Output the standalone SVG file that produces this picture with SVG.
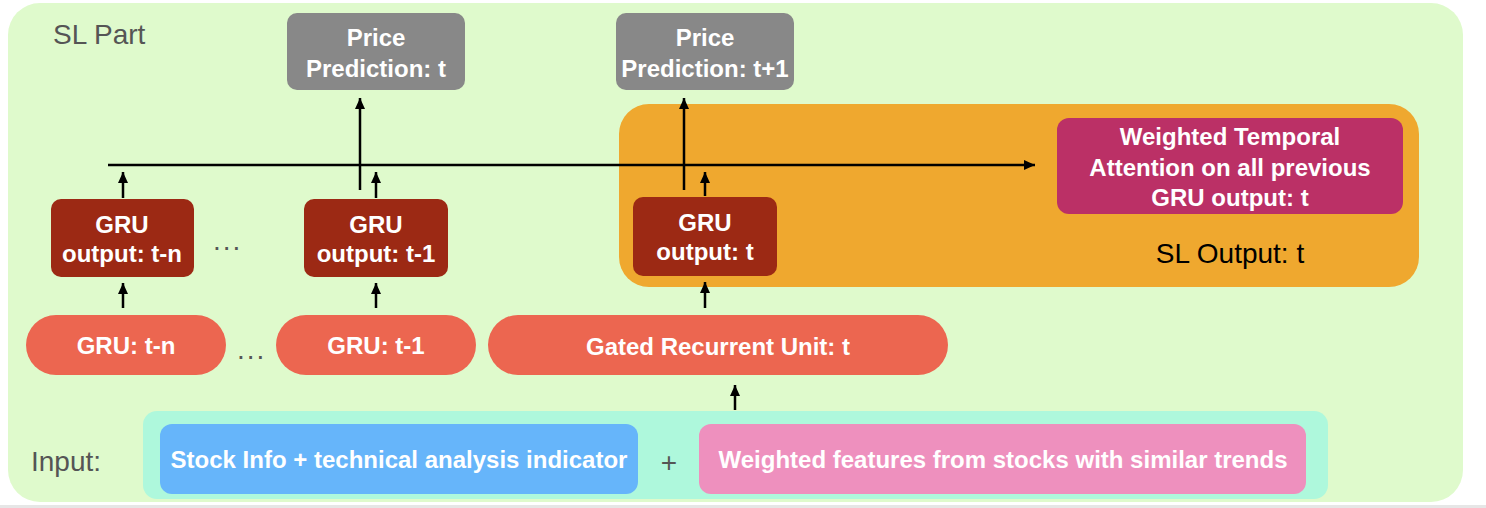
<svg xmlns="http://www.w3.org/2000/svg" width="1486" height="508" viewBox="0 0 1486 508">
<style>
.lbl{font-family:"Liberation Sans",Arial,sans-serif;font-weight:bold;font-size:24px;fill:#ffffff;text-anchor:middle}
.plain{font-family:"Liberation Sans",Arial,sans-serif;font-size:28px;fill:#555555}
.dots{font-family:"Liberation Sans",Arial,sans-serif;font-size:28px;fill:#555555;letter-spacing:2px}
.gray{fill:#888888}
.gru{fill:#9c2914}
.pill{fill:#ec6650}
.ln{stroke:#000000;stroke-width:2.5;fill:none}
</style>
<defs>
<marker id="ah" markerUnits="userSpaceOnUse" markerWidth="12" markerHeight="10" refX="11" refY="5" orient="auto">
<path d="M0,0 L11,5 L0,10 z" fill="#000000"/>
</marker>
</defs>
<rect x="0" y="0" width="1486" height="508" fill="#ffffff"/>
<rect x="0" y="505" width="1486" height="3" fill="#e6e6e6"/>
<g id="sl-part">
<rect x="8" y="3" width="1455" height="499" rx="32" fill="#dffacc"/>
<text class="plain" x="53" y="44">SL Part</text>
</g>
<g id="sl-output">
<rect x="619" y="104" width="800" height="183" rx="30" fill="#efa82f"/>
<text x="1230" y="263" font-family="Liberation Sans,Arial,sans-serif" font-size="28" fill="#000000" text-anchor="middle">SL Output: t</text>
</g>
<g id="price-t">
<rect class="gray" x="287" y="13" width="178" height="77" rx="10"/>
<text class="lbl" x="376" y="46">Price</text>
<text class="lbl" x="376" y="77">Prediction: t</text>
</g>
<g id="price-t1">
<rect class="gray" x="616" y="13" width="178" height="77" rx="10"/>
<text class="lbl" x="705" y="46">Price</text>
<text class="lbl" x="705" y="77">Prediction: t+1</text>
</g>
<g id="attention">
<rect x="1057" y="118" width="346" height="96" rx="12" fill="#bb3066"/>
<text class="lbl" x="1230" y="145">Weighted Temporal</text>
<text class="lbl" x="1230" y="176">Attention on all previous</text>
<text class="lbl" x="1230" y="206">GRU output: t</text>
</g>
<g id="gru-out-tn">
<rect class="gru" x="51" y="199" width="143" height="78" rx="10"/>
<text class="lbl" x="122" y="233">GRU</text>
<text class="lbl" x="122" y="262">output: t-n</text>
</g>
<text class="dots" x="213" y="250">...</text>
<g id="gru-out-t1">
<rect class="gru" x="304" y="199" width="144" height="78" rx="10"/>
<text class="lbl" x="376" y="233">GRU</text>
<text class="lbl" x="376" y="262">output: t-1</text>
</g>
<g id="gru-out-t">
<rect class="gru" x="633" y="197" width="144" height="79" rx="10"/>
<text class="lbl" x="705" y="231">GRU</text>
<text class="lbl" x="705" y="260">output: t</text>
</g>
<g id="gru-tn">
<rect class="pill" x="26" y="315" width="200" height="60" rx="30"/>
<text class="lbl" x="126" y="354">GRU: t-n</text>
</g>
<text class="dots" x="237" y="359">...</text>
<g id="gru-t1">
<rect class="pill" x="276" y="315" width="200" height="60" rx="30"/>
<text class="lbl" x="376" y="354">GRU: t-1</text>
</g>
<g id="gru-t">
<rect class="pill" x="488" y="315" width="460" height="60" rx="30"/>
<text class="lbl" x="718" y="355">Gated Recurrent Unit: t</text>
</g>
<g id="input">
<text class="plain" x="31" y="471">Input:</text>
<rect x="143" y="411" width="1185" height="88" rx="14" fill="#aef8dc"/>
<g id="stock-info">
<rect x="160" y="424" width="478" height="70" rx="12" fill="#66b5fa"/>
<text class="lbl" x="399" y="468">Stock Info + technical analysis indicator</text>
</g>
<text class="plain" x="669" y="472" text-anchor="middle">+</text>
<g id="weighted-features">
<rect x="699" y="424" width="607" height="70" rx="12" fill="#ee90be"/>
<text class="lbl" x="1003" y="468">Weighted features from stocks with similar trends</text>
</g>
</g>
<g id="connectors">
<line class="ln" x1="108" y1="165" x2="1035" y2="165" stroke-width="3" marker-end="url(#ah)"/>
<line class="ln" x1="360" y1="190" x2="360" y2="98" marker-end="url(#ah)"/>
<line class="ln" x1="684" y1="190" x2="684" y2="98" marker-end="url(#ah)"/>
<line class="ln" x1="123" y1="198" x2="123" y2="172" marker-end="url(#ah)"/>
<line class="ln" x1="376" y1="198" x2="376" y2="172" marker-end="url(#ah)"/>
<line class="ln" x1="705" y1="196" x2="705" y2="172" marker-end="url(#ah)"/>
<line class="ln" x1="123" y1="308" x2="123" y2="283" marker-end="url(#ah)"/>
<line class="ln" x1="376" y1="308" x2="376" y2="283" marker-end="url(#ah)"/>
<line class="ln" x1="705" y1="308" x2="705" y2="282" marker-end="url(#ah)"/>
<line class="ln" x1="735" y1="410" x2="735" y2="385" marker-end="url(#ah)"/>
</g>
</svg>
